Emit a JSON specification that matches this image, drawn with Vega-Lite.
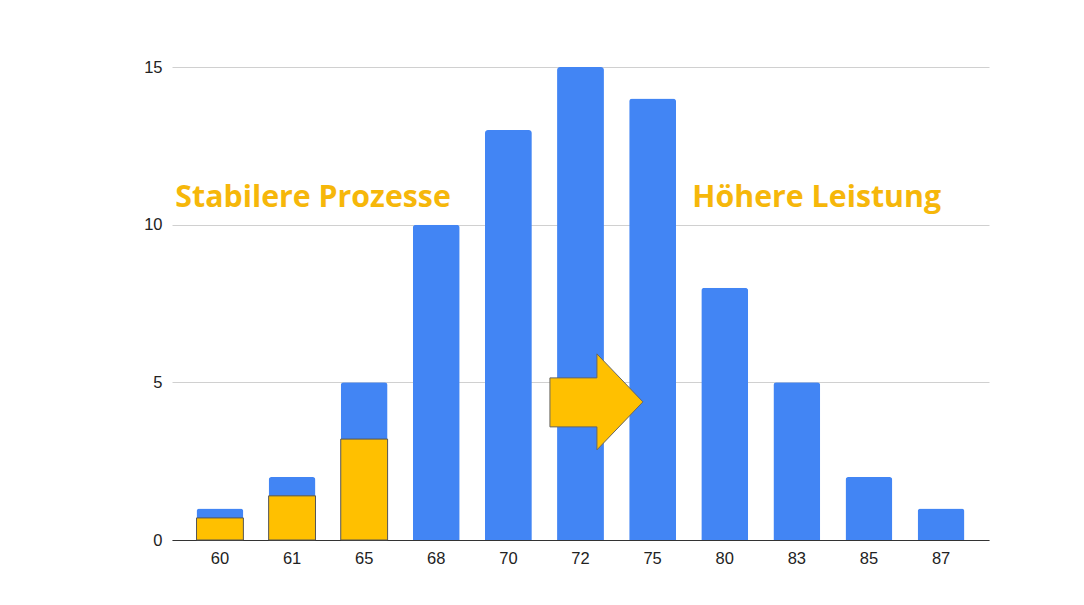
{
  "$schema": "https://vega.github.io/schema/vega-lite/v6.json",
  "width": 817,
  "height": 473,
  "autosize": {"type": "none"},
  "padding": {"left": 172, "top": 67, "right": 95, "bottom": 65},
  "background": "white",
  "config": {
    "view": {"stroke": null},
    "font": "Liberation Sans"
  },
  "datasets": {
    "bars": [
      {"k": "60", "n": 1, "s": 0.7},
      {"k": "61", "n": 2, "s": 1.4},
      {"k": "65", "n": 5, "s": 3.2},
      {"k": "68", "n": 10},
      {"k": "70", "n": 13},
      {"k": "72", "n": 15},
      {"k": "75", "n": 14},
      {"k": "80", "n": 8},
      {"k": "83", "n": 5},
      {"k": "85", "n": 2},
      {"k": "87", "n": 1}
    ]
  },
  "data": {"name": "bars"},
  "encoding": {
    "x": {
      "field": "k", "type": "ordinal", "sort": null,
      "scale": {"paddingInner": 0.35, "paddingOuter": 0.34},
      "axis": {"title": null, "labelAngle": 0, "labelFontSize": 16.5, "labelColor": "#222222", "labelPadding": 10, "ticks": false, "domainColor": "#333333", "domainWidth": 1.2, "grid": false}
    }
  },
  "layer": [
    {
      "mark": {"type": "bar", "color": "#4285F4", "cornerRadiusTopLeft": 3, "cornerRadiusTopRight": 3},
      "encoding": {
        "y": {
          "field": "n", "type": "quantitative",
          "scale": {"domain": [0, 15], "nice": false},
          "axis": {"title": null, "values": [0, 5, 10, 15], "labelFontSize": 16.5, "labelColor": "#222222", "labelPadding": 10, "ticks": false, "domain": false, "gridColor": "#d0d0d0", "gridWidth": 1}
        }
      }
    },
    {
      "transform": [{"filter": "isValid(datum.s)"}],
      "mark": {"type": "bar", "color": "#FFC000", "stroke": "#555555", "strokeWidth": 1},
      "encoding": {"y": {"field": "s", "type": "quantitative"}}
    },
    {
      "data": {"values": [{"k": "72", "v": 4.38}]},
      "mark": {"type": "point", "shape": "M -0.93 -0.48 L 0.01 -0.48 L 0.01 -0.96 L 0.93 0 L 0.01 0.96 L 0.01 0.5 L -0.93 0.5 Z", "size": 10000, "filled": true, "fill": "#FFC000", "stroke": "#666666", "strokeWidth": 1, "opacity": 1},
      "encoding": {
        "x": {"field": "k", "type": "ordinal", "sort": null, "bandPosition": 0.84},
        "y": {"field": "v", "type": "quantitative"}
      }
    },
    {
      "data": {"values": [{"k": "61", "v": 10.85, "t": "Stabilere Prozesse"}]},
      "mark": {"type": "text", "font": "Open Sans", "fontWeight": "bold", "fontSize": 30.3, "color": "#F6B70A", "align": "center", "baseline": "middle", "dx": 21},
      "encoding": {"y": {"field": "v", "type": "quantitative"}, "text": {"field": "t"}}
    },
    {
      "data": {"values": [{"k": "87", "v": 10.85, "t": "Höhere Leistung"}]},
      "mark": {"type": "text", "font": "Open Sans", "fontWeight": "bold", "fontSize": 30.3, "color": "#F6B70A", "align": "right", "baseline": "middle", "dx": 0},
      "encoding": {"y": {"field": "v", "type": "quantitative"}, "text": {"field": "t"}}
    }
  ]
}
